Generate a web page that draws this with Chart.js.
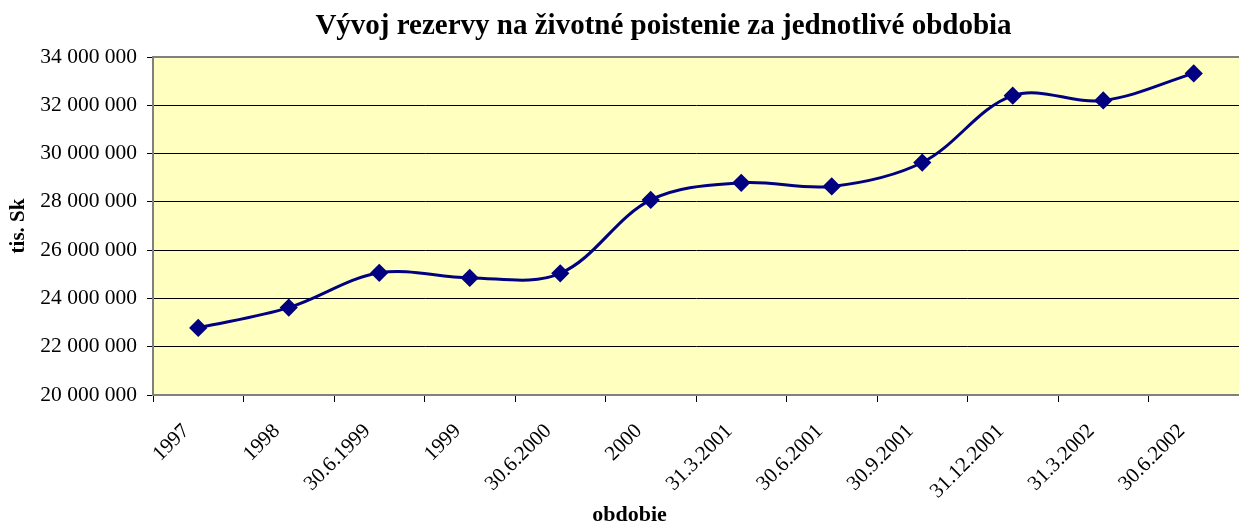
<!DOCTYPE html>
<html>
<head>
<meta charset="utf-8">
<script src="https://cdn.jsdelivr.net/npm/chart.js@4/dist/chart.umd.min.js"></script>
<style>
  html, body { margin: 0; padding: 0; background: #fff; }
  #wrap { width: 1239px; height: 525px; }
</style>
</head>
<body>
<div id="wrap"><canvas id="lineChart" width="1239" height="525"></canvas></div>
<script>
var periods = ['1997', '1998', '30.6.1999', '1999', '30.6.2000', '2000',
    '31.3.2001', '30.6.2001', '30.9.2001', '31.12.2001', '31.3.2002', '30.6.2002'];
var reserve = [22780000, 23620000, 25060000, 24850000, 25040000, 28080000,
    28790000, 28640000, 29630000, 32400000, 32200000, 33320000];
var yMin = 20000000, yMax = 34000000, yStep = 2000000;

var chartTitle = 'Vývoj rezervy na životné poistenie za jednotlivé obdobia';
var xTitle = 'obdobie';

var serif = '"Liberation Serif", "Times New Roman", serif';

function spaced(v) {
    return String(v).replace(/\B(?=(\d{3})+(?!\d))/g, ' ');
}

// pale yellow plot area, grey top frame, titles (placed like the excel original)
var plotBg = {
    id: 'plotBg',
    beforeDraw: function(chart) {
        var a = chart.chartArea, c = chart.ctx;
        c.save();
        c.fillStyle = '#FFFFC0';
        c.fillRect(a.left, a.top, a.right - a.left, a.bottom - a.top);
        c.restore();
    },
    afterDraw: function(chart) {
        var a = chart.chartArea, c = chart.ctx;
        c.save();
        c.strokeStyle = '#808080';
        c.lineWidth = 2;
        c.beginPath();
        c.moveTo(a.left, a.top);
        c.lineTo(a.right, a.top);
        c.stroke();
        c.fillStyle = '#000';
        c.textAlign = 'center';
        c.textBaseline = 'middle';
        c.font = 'bold 29px ' + serif;
        c.fillText(chartTitle, chart.width / 2 + 44, 27);
        c.font = 'bold 22px ' + serif;
        c.fillText(xTitle, chart.width / 2 + 10, chart.height - 10);
        c.restore();
    }
};

var ctx = document.getElementById('lineChart').getContext('2d');
var myLineChart = new Chart(ctx, {
    type: 'line',
    data: {
        labels: periods,
        datasets: [{
            data: reserve,
            borderColor: '#000080',
            backgroundColor: '#000080',
            borderWidth: 3,
            tension: 0.35,
            pointStyle: 'rectRot',
            pointRadius: 7,
            pointHoverRadius: 7,
            fill: false
        }]
    },
    options: {
        responsive: false,
        animation: false,
        layout: {
            autoPadding: false,
            padding: { left: 0, right: 0, top: 57, bottom: 0 }
        },
        plugins: {
            legend: { display: false },
            tooltip: { enabled: false },
            title: { display: false }
        },
        scales: {
            x: {
                offset: true,
                grid: {
                    offset: true,
                    drawOnChartArea: false,
                    color: '#000',
                    tickLength: 7
                },
                border: { color: '#808080', width: 2 },
                ticks: {
                    autoSkip: false,
                    minRotation: 45,
                    maxRotation: 45,
                    color: '#000',
                    padding: 17,
                    labelOffset: -12,
                    font: { family: serif, size: 21 }
                },
                afterFit: function(scale) {
                    scale.height = 130;
                    scale.paddingRight = 0;
                    scale.paddingLeft = 0;
                }
            },
            y: {
                min: yMin,
                max: yMax,
                grid: {
                    color: '#000',
                    lineWidth: 1,
                    tickLength: 6
                },
                border: { color: '#808080', width: 2 },
                ticks: {
                    stepSize: yStep,
                    color: '#000',
                    padding: 10,
                    font: { family: serif, size: 21.5 },
                    callback: function(v) { return spaced(v); }
                },
                title: {
                    display: true,
                    text: 'tis. Sk',
                    color: '#000',
                    font: { family: serif, size: 21, weight: 'bold' },
                    padding: { top: 6, bottom: 0 }
                },
                afterFit: function(scale) { scale.width = 153; }
            }
        }
    },
    plugins: [plotBg]
});
</script>
</body>
</html>
